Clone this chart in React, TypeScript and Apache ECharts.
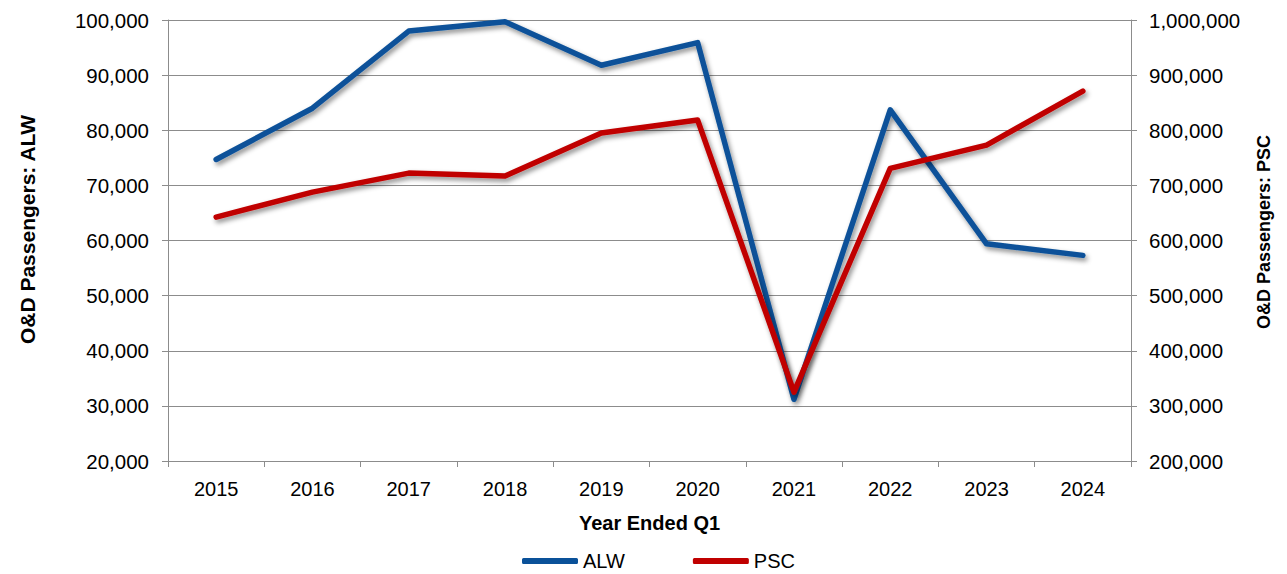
import React, { useEffect, useRef } from "react";
import * as echarts from "echarts";

const years = ["2015", "2016", "2017", "2018", "2019", "2020", "2021", "2022", "2023", "2024"];
const alwValues = [74700, 84000, 98000, 99700, 91800, 95900, 31200, 83700, 59400, 57300];
const pscValues = [642500, 687800, 722300, 716900, 794900, 818500, 324900, 730900, 773100, 871100];

const leftMin = 20000;
const leftMax = 100000;
const leftInterval = 10000;
const rightMin = 200000;
const rightMax = 1000000;
const rightInterval = 100000;

const FONT = "'Liberation Sans', Arial, sans-serif";
const BLUE = "#0A5199";
const RED = "#C00000";
const GRAY = "#8C8C8C";

const fmt = (v: number) => v.toLocaleString("en-US");

export default function App() {
  const ref = useRef<HTMLDivElement>(null);
  useEffect(() => {
    if (!ref.current) return;
    const chart = echarts.init(ref.current, null, { renderer: "svg" });
    const lineShadow = {
      shadowColor: "rgba(0,0,0,0.45)",
      shadowBlur: 5,
      shadowOffsetX: 2,
      shadowOffsetY: 3,
    };
    chart.setOption({
      animation: false,
      backgroundColor: "#ffffff",
      textStyle: { fontFamily: FONT },
      grid: { left: 168, right: 156, top: 20, bottom: 113, containLabel: false },
      legend: {
        left: 522,
        top: 551,
        padding: 0,
        icon: "roundRect",
        itemWidth: 56,
        itemHeight: 6,
        itemGap: 68,
        textStyle: { fontFamily: FONT, fontSize: 20, color: "#000" },
        data: ["ALW", "PSC"],
      },
      xAxis: {
        type: "category",
        data: years,
        boundaryGap: true,
        name: "Year Ended Q1",
        nameLocation: "middle",
        nameGap: 52,
        nameTextStyle: { fontFamily: FONT, fontSize: 20, fontWeight: "bold", color: "#000" },
        axisLine: { show: true, lineStyle: { color: GRAY, width: 1 } },
        axisTick: { show: true, length: 6, lineStyle: { color: GRAY } },
        axisLabel: { fontFamily: FONT, fontSize: 20, color: "#000", margin: 18 },
      },
      yAxis: [
        {
          type: "value",
          position: "left",
          min: leftMin,
          max: leftMax,
          interval: leftInterval,
          name: "O&D Passengers: ALW",
          nameLocation: "middle",
          nameGap: 130,
          nameTextStyle: {
            fontFamily: FONT,
            fontSize: 21,
            fontWeight: "bold",
            color: "#000",
            padding: [0, 0, 0, 22],
          },
          axisLine: { show: true, lineStyle: { color: GRAY, width: 1 } },
          axisTick: { show: true, length: 6, lineStyle: { color: GRAY } },
          axisLabel: { fontFamily: FONT, fontSize: 20.5, color: "#000", margin: 19, formatter: fmt },
          splitLine: { show: true, lineStyle: { color: GRAY, width: 1 } },
        },
        {
          type: "value",
          position: "right",
          min: rightMin,
          max: rightMax,
          interval: rightInterval,
          name: "O&D Passengers: PSC",
          nameLocation: "middle",
          nameGap: 124,
          nameTextStyle: {
            fontFamily: FONT,
            fontSize: 18,
            fontWeight: "bold",
            color: "#000",
            padding: [0, 0, 0, 17],
          },
          axisLine: { show: true, lineStyle: { color: GRAY, width: 1 } },
          axisTick: { show: true, length: 6, lineStyle: { color: GRAY } },
          axisLabel: { fontFamily: FONT, fontSize: 20.5, color: "#000", margin: 18, formatter: fmt },
          splitLine: { show: false },
        },
      ],
      series: [
        {
          name: "ALW",
          type: "line",
          yAxisIndex: 0,
          data: alwValues,
          showSymbol: false,
          symbol: "none",
          itemStyle: { color: BLUE },
          lineStyle: { color: BLUE, width: 5.5, cap: "round", join: "round", ...lineShadow },
        },
        {
          name: "PSC",
          type: "line",
          yAxisIndex: 1,
          data: pscValues,
          showSymbol: false,
          symbol: "none",
          itemStyle: { color: RED },
          lineStyle: { color: RED, width: 5.5, cap: "round", join: "round", ...lineShadow },
        },
      ],
    });
    return () => chart.dispose();
  }, []);
  return (
    <div
      ref={ref}
      style={{ position: "absolute", left: 0, top: 0, width: 1287, height: 574, background: "#fff" }}
    />
  );
}
